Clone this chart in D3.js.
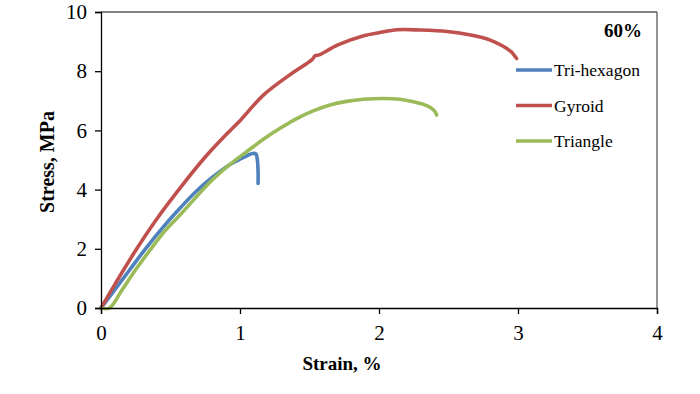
<!DOCTYPE html>
<html><head><meta charset="utf-8">
<script src="https://cdn.jsdelivr.net/npm/d3@7"></script>
<style>body{margin:0;background:#fff}svg{display:block}
.tick text{font-family:'Liberation Serif','Times New Roman',serif !important;font-size:21px !important}</style>
</head><body><svg id="c" width="700" height="394"></svg>
<script>
const seriesNames = ["Tri-hexagon", "Gyroid", "Triangle"];
const seriesColors = ["#4F81BD", "#C0504D", "#9BBB59"];
const triHexStrain = [0, 0.1, 0.2, 0.32, 0.45, 0.568, 0.68, 0.784, 0.928, 1.0, 1.05, 1.09, 1.115, 1.125, 1.13, 1.13];
const triHexStress = [0, 0.62, 1.25, 2.0, 2.75, 3.37, 3.92, 4.35, 4.85, 5.03, 5.14, 5.22, 5.2, 5.0, 4.6, 4.21];
const gyroidStrain = [0, 0.1, 0.25, 0.4, 0.56, 0.75, 0.93, 1.0, 1.17, 1.35, 1.52, 1.54, 1.57, 1.7, 1.89, 2.0, 2.13, 2.3, 2.49, 2.66, 2.8, 2.89, 2.95, 2.97, 2.99];
const gyroidStress = [0, 0.8, 1.95, 3.0, 4.0, 5.1, 6.0, 6.33, 7.2, 7.85, 8.4, 8.52, 8.55, 8.88, 9.2, 9.3, 9.4, 9.39, 9.34, 9.22, 9.05, 8.85, 8.66, 8.55, 8.43];
const triangleStrain = [0, 0.06, 0.15, 0.25, 0.36, 0.45, 0.568, 0.784, 0.928, 1.048, 1.168, 1.288, 1.408, 1.527, 1.647, 1.767, 1.887, 2.03, 2.15, 2.247, 2.32, 2.367, 2.4, 2.415];
const triangleStress = [0, 0, 0.6, 1.3, 2.0, 2.55, 3.14, 4.25, 4.85, 5.28, 5.7, 6.07, 6.4, 6.66, 6.86, 6.98, 7.05, 7.08, 7.05, 6.97, 6.88, 6.78, 6.65, 6.52];
const xTicks = [0, 1, 2, 3, 4];
const yTicks = [0, 2, 4, 6, 8, 10];
const xTitle = "Strain, %";
const yTitle = "Stress, MPa";
const panelLabel = "60%";

const svg = d3.select("#c");
const L = 101, R = 657, T = 12, B = 308;
const x = d3.scaleLinear().domain([0, 4]).range([L, R]);
const y = d3.scaleLinear().domain([0, 10]).range([B, T]);
const font = "'Liberation Serif', 'Times New Roman', serif";

svg.append("line").attr("x1", L).attr("x2", R).attr("y1", T).attr("y2", T).attr("stroke", "#595959").attr("stroke-width", 1.3);
svg.append("line").attr("x1", R).attr("x2", R).attr("y1", T).attr("y2", B).attr("stroke", "#595959").attr("stroke-width", 1.3);

const series = [
  {s: triHexStrain, v: triHexStress},
  {s: gyroidStrain, v: gyroidStress},
  {s: triangleStrain, v: triangleStress}
];
const line = d3.line().x(d => x(d[0])).y(d => y(d[1])).curve(d3.curveCatmullRom.alpha(0.5));
series.forEach((ser, i) => {
  const pts = ser.s.map((s, j) => [s, ser.v[j]]);
  svg.append("path").attr("d", line(pts)).attr("fill", "none")
    .attr("stroke", seriesColors[i]).attr("stroke-width", 3.6)
    .attr("stroke-linejoin", "round").attr("stroke-linecap", "round");
});

const xAxis = svg.append("g").attr("transform", `translate(0,${B})`)
  .call(d3.axisBottom(x).tickValues(xTicks).tickSize(6).tickPadding(11).tickFormat(d3.format("d")));
const yAxis = svg.append("g").attr("transform", `translate(${L},0)`)
  .call(d3.axisLeft(y).tickValues(yTicks).tickSize(6).tickPadding(8).tickFormat(d3.format("d")));
[xAxis, yAxis].forEach(a => {
  a.attr("font-family", font).attr("font-size", 21);
  a.select(".domain").attr("stroke", "#000").attr("stroke-width", 1.3);
  a.selectAll(".tick line").attr("stroke", "#000").attr("stroke-width", 1.3);
  a.selectAll(".tick text").attr("fill", "#000");
});

svg.append("text").attr("x", 342).attr("y", 370).attr("text-anchor", "middle")
  .style("font-family", font).attr("font-weight", "bold").style("font-size", "19px").text(xTitle);
svg.append("text").attr("transform", "translate(54,162) rotate(-90)").attr("text-anchor", "middle")
  .style("font-family", font).attr("font-weight", "bold").style("font-size", "20px").text(yTitle);
svg.append("text").attr("x", 642).attr("y", 37).attr("text-anchor", "end")
  .style("font-family", font).attr("font-weight", "bold").style("font-size", "19px").text(panelLabel);

const legY = [70, 105.5, 141];
seriesNames.forEach((n, i) => {
  svg.append("line").attr("x1", 516).attr("x2", 552).attr("y1", legY[i]).attr("y2", legY[i])
    .attr("stroke", seriesColors[i]).attr("stroke-width", 3.6);
  svg.append("text").attr("x", 554).attr("y", legY[i] + 6).style("font-family", font)
    .style("font-size", "17.5px").text(n);
});
</script></body></html>
